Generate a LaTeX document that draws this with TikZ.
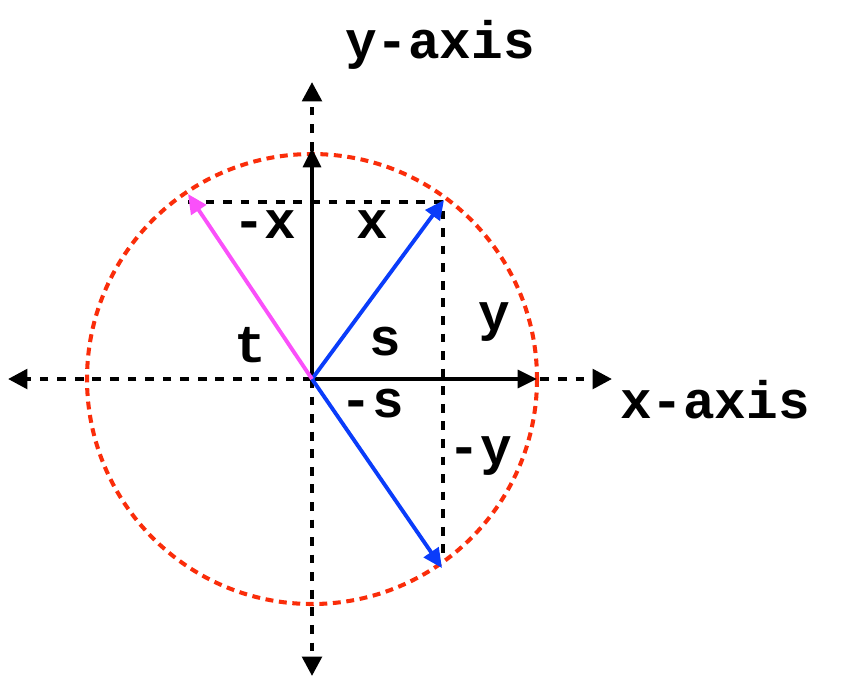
\documentclass[tikz,border=0pt]{standalone}
\usepackage{fontspec}
\usepackage{xcolor}
\usetikzlibrary{arrows.meta}
\newfontfamily\monofont{Liberation Mono}
\definecolor{circred}{RGB}{250,45,10}
\definecolor{vecblue}{RGB}{10,60,250}
\definecolor{vecpink}{RGB}{250,80,250}

\tikzset{
  axisline/.style={line width=2.4pt, dash pattern=on 5pt off 5pt, -{Triangle[length=11pt,width=11pt]}},
  vec/.style={line width=2.2pt, -{Triangle[length=11pt,width=10pt]}},
  lbl/.style={font=\monofont\bfseries\fontsize{30}{36}\selectfont, inner sep=0pt}
}

\begin{document}
\begin{tikzpicture}[x=0.02cm, y=-0.02cm]

\useasboundingbox (0,0) rectangle (854,698);

% Points
\coordinate (o) at (312,379);
\coordinate (xl) at (8,379);
\coordinate (xr) at (612,379);
\coordinate (yt) at (312,82);
\coordinate (yb) at (312,676);
\coordinate (ex) at (537,379);
\coordinate (ey) at (312,148);
\coordinate (pq) at (444,200);
\coordinate (pr) at (442,568);
\coordinate (pt) at (188,194);
\coordinate (cx) at (443,202);
\coordinate (cmx) at (188,202);
\coordinate (cy) at (443,556);

% Circle
\draw[circred, line width=2.3pt, dash pattern=on 4.5pt off 3.2pt] (o) circle (225);

% Axes (dashed, both ways)
\draw[axisline] (o) -- (xr);
\draw[axisline] (o) -- (xl);
\draw[axisline] (o) -- (yt);
\draw[axisline] (o) -- (yb);

% Projections
\draw[line width=2.4pt, dash pattern=on 5pt off 5pt] (cmx) -- (cx) -- (cy);

% Unit vectors
\draw[vec, black, line width=2.4pt] (o) -- (ex);
\draw[vec, black, line width=2.4pt] (o) -- (ey);

% Rotated vectors
\draw[vec, vecblue] (o) -- (pq);
\draw[vec, vecblue] (o) -- (pr);
\draw[vec, vecpink] (o) -- (pt);

% Labels
\node[lbl] (yaxis) at (440,45) {y-axis};
\node[lbl] (xaxis) at (715,400) {x-axis};
\node[lbl] (mxlbl) at (265,225) {-x};
\node[lbl] (xlbl) at (372,225) {x};
\node[lbl] (ylbl) at (494,322) {y};
\node[lbl] (slbl) at (385,342) {s};
\node[lbl] (tlbl) at (250,345) {t};
\node[lbl] (mslbl) at (372,404) {-s};
\node[lbl] (mylbl) at (480,456) {-y};

\end{tikzpicture}
\end{document}
